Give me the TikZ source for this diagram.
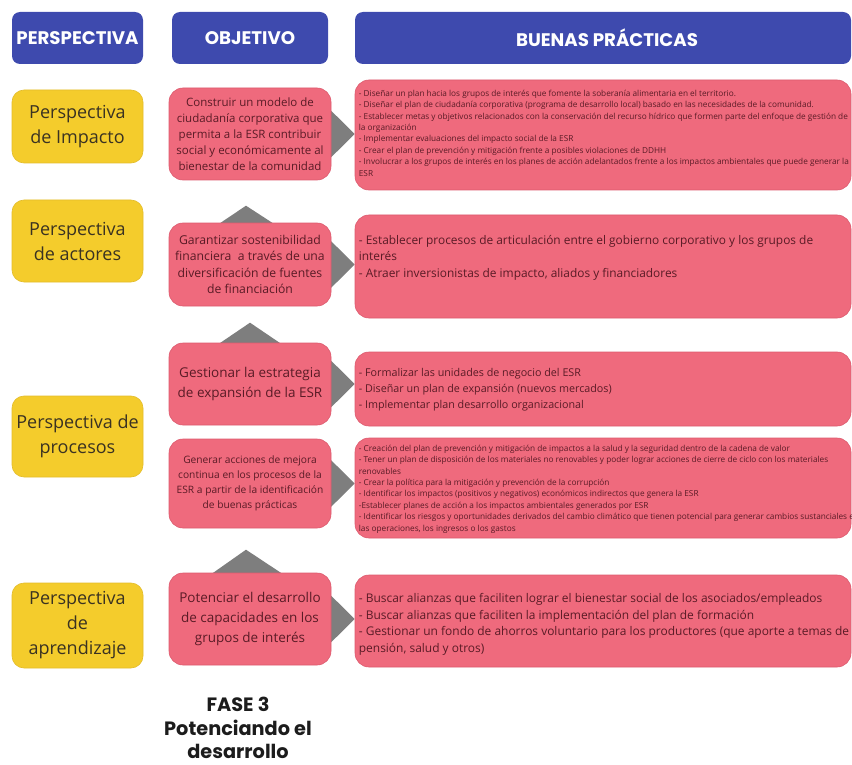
\documentclass[tikz,border=0pt]{standalone}
\usepackage{fontspec}
\setmainfont{Open Sans}
\newfontfamily\headfont{Poppins}
\usetikzlibrary{backgrounds,calc}
\definecolor{hdrblue}{HTML}{3E4AAE}
\definecolor{persyellow}{HTML}{F4CC2C}
\definecolor{persedge}{HTML}{E3BC2A}
\definecolor{objpink}{HTML}{EF6A7D}
\definecolor{pinkedge}{HTML}{DC5A6E}
\definecolor{pinktext}{HTML}{5A1B26}
\definecolor{yelltext}{HTML}{3A3222}
\definecolor{trigray}{HTML}{7E7E7E}
\definecolor{phasetext}{HTML}{1C1C1C}

\begin{document}
\begin{tikzpicture}[x=1pt,y=-1pt,
  header/.style={fill=hdrblue, rounded corners=8pt, text=white,
    font=\headfont\bfseries\fontsize{18.2}{20}\selectfont,
    minimum height=52pt, inner sep=0pt},
  persbox/.style={fill=persyellow, draw=persedge, line width=0.6pt,
    rounded corners=12pt, minimum width=131pt, text=yelltext,
    align=center, font=\fontsize{18}{25}\selectfont, inner sep=0pt},
  objbox/.style={fill=objpink, draw=pinkedge, line width=0.6pt,
    rounded corners=14pt, minimum width=162pt, text=pinktext,
    align=center, inner sep=0pt},
  pracbox/.style={fill=objpink, draw=pinkedge, line width=0.6pt,
    rounded corners=14pt, minimum width=496pt, inner sep=0pt},
  practext/.style={anchor=west, align=left, text=pinktext, inner sep=0pt},
  pointer/.style={fill=trigray},
]
\useasboundingbox (0,0) rectangle (852,765);

% column headers
\node[header, minimum width=131pt] (h1) at (77.5,38) {PERSPECTIVA};
\node[header, minimum width=156pt] (h2) at (250,38) {OBJETIVO};
\node[header, minimum width=496pt] (h3) at (603,38) {\hspace{8pt}BUENAS PRÁCTICAS};

% perspectives
\node[persbox, minimum height=73pt] (y1) at (77.5,126.5) {Perspectiva\\de Impacto};
\node[persbox, minimum height=82pt] (y2) at (77.5,241) {Perspectiva\\de actores};
\node[persbox, minimum height=81pt] (y3) at (77.5,436.5) {Perspectiva de\\procesos};
\node[persbox, minimum height=85pt] (y4) at (77.5,625.5) {Perspectiva\\de\\aprendizaje};

% objectives
\node[objbox, minimum height=92pt, font=\fontsize{11.5}{16}\selectfont] (o1) at (250,134)
  {Construir un modelo de\\ciudadanía corporativa que\\permita a la ESR contribuir\\social y económicamente al\\bienestar de la comunidad};
\node[objbox, minimum height=83pt, font=\fontsize{12.2}{16.5}\selectfont] (o2) at (250,264.5)
  {Garantizar sostenibilidad\\financiera~ a través de una\\diversificación de fuentes\\de financiación};
\node[objbox, minimum height=82pt, font=\fontsize{13.5}{20}\selectfont] (o3) at (250,384)
  {Gestionar la estrategia\\de expansión de la ESR};
\node[objbox, minimum height=89pt, font=\fontsize{10.2}{15}\selectfont] (o4) at (250,483.5)
  {Generar acciones de mejora\\continua en los procesos de la\\ESR a partir de la identificación\\de buenas prácticas};
\node[objbox, minimum height=92pt, font=\fontsize{13.5}{20}\selectfont] (o5) at (250,619)
  {Potenciar el desarrollo\\de capacidades en los\\grupos de interés};

% good practices
\node[pracbox, minimum height=110pt] (p1) at (603,135) {};
\node[pracbox, minimum height=103pt] (p2) at (603,266.5) {};
\node[pracbox, minimum height=74pt] (p3) at (603,389) {};
\node[pracbox, minimum height=100pt] (p4) at (603,488) {};
\node[pracbox, minimum height=92pt] (p5) at (603,621) {};

\node[practext, font=\fontsize{8.25}{11.4}\selectfont] (p1t) at ($(p1.west)+(4,-2)$)
  {- Diseñar un plan hacia los grupos de interés que fomente la soberanía alimentaria en el territorio.\\
   - Diseñar el plan de ciudadanía corporativa (programa de desarrollo local) basado en las necesidades de la comunidad.\\
   - Establecer metas y objetivos relacionados con la conservación del recurso hídrico que formen parte del enfoque de gestión de\\
   la organización\\
   - Implementar evaluaciones del impacto social de la ESR\\
   - Crear el plan de prevención y mitigación frente a posibles violaciones de DDHH\\
   - Involucrar a los grupos de interés en los planes de acción adelantados frente a los impactos ambientales que puede generar la\\
   ESR};
\node[practext, font=\fontsize{11.9}{16.5}\selectfont] (p2t) at ($(p2.west)+(4,-9)$)
  {- Establecer procesos de articulación entre el gobierno corporativo y los grupos de\\
   interés\\
   - Atraer inversionistas de impacto, aliados y financiadores};
\node[practext, font=\fontsize{10.75}{16}\selectfont] (p3t) at ($(p3.west)+(4,1)$)
  {- Formalizar las unidades de negocio del ESR\\
   - Diseñar un plan de expansión (nuevos mercados)\\
   - Implementar plan desarrollo organizacional};
\node[practext, font=\fontsize{8.25}{11.4}\selectfont] (p4t) at ($(p4.west)+(4,1)$)
  {- Creación del plan de prevención y mitigación de impactos a la salud y la seguridad dentro de la cadena de valor\\
   - Tener un plan de disposición de los materiales no renovables y poder lograr acciones de cierre de ciclo con los materiales\\
   renovables\\
   - Crear la política para la mitigación y prevención de la corrupción\\
   - Identificar los impactos (positivos y negativos) económicos indirectos que genera la ESR\\
   -Establecer planes de acción a los impactos ambientales generados por ESR\\
   - Identificar los riesgos y oportunidades derivados del cambio climático que tienen potencial para generar cambios sustanciales en\\
   las operaciones, los ingresos o los gastos};
\node[practext, font=\fontsize{11.95}{16.7}\selectfont] (p5t) at ($(p5.west)+(4,3.5)$)
  {- Buscar alianzas que faciliten lograr el bienestar social de los asociados/empleados\\
   - Buscar alianzas que faciliten la implementación del plan de formación\\
   - Gestionar un fondo de ahorros voluntario para los productores (que aporte a temas de\\
   pensión, salud y otros)};

% phase caption
\node[align=center, text=phasetext, font=\headfont\bfseries\fontsize{19.3}{23.5}\selectfont] (fase) at (238,728)
  {FASE 3\\Potenciando el\\desarrollo};

% grey pointers behind the objective boxes
\begin{scope}[on background layer]
  \foreach \o/\p in {o1/p1, o2/p2, o3/p3, o4/p4, o5/p5} {
    \fill[pointer] ($(\o.east)+(-12,-35)$) -- (\o.east -| \p.west) -- ($(\o.east)+(-12,35)$) -- cycle;
  }
  \fill[pointer] ($(o2.north)+(-62,22)$) -- ($(o2.north)+(-4,-17)$) -- ($(o2.north)+(56,22)$) -- cycle;
  \fill[pointer] ($(o3.north)+(-62,22)$) -- ($(o3.north)+(0,-20)$) -- ($(o3.north)+(62,22)$) -- cycle;
  \fill[pointer] ($(o5.north)+(-68,22)$) -- ($(o5.north)+(-4,-23)$) -- ($(o5.north)+(64,22)$) -- cycle;
\end{scope}
\end{tikzpicture}
\end{document}
